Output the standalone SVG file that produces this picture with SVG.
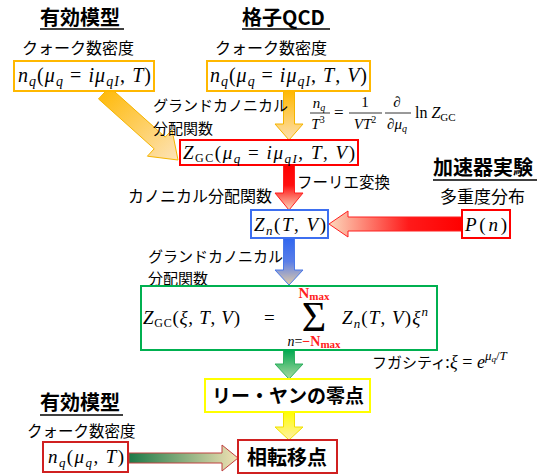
<svg xmlns="http://www.w3.org/2000/svg" width="544" height="476" viewBox="0 0 544 476">
<style>
.jp{font-family:"Noto Sans CJK JP","Noto Sans",sans-serif;fill:#000}
.jb{font-family:"Noto Sans CJK JP","Noto Sans",sans-serif;font-weight:bold;fill:#000}
.m{font-family:"Liberation Serif","Times New Roman",serif;fill:#000}
.i{font-style:italic}
.box{fill:#fff;stroke-width:2}
.ul{stroke:#000;stroke-width:1.5}
.red{fill:#FF2020}
</style>
<defs>
<linearGradient id="gOrD" x1="0" y1="0" x2="1" y2="1"><stop offset="0" stop-color="#FFB800"/><stop offset="1" stop-color="#FDE3B8"/></linearGradient>
<linearGradient id="gOrV" x1="0" y1="0" x2="0" y2="1"><stop offset="0" stop-color="#FFB800"/><stop offset="1" stop-color="#FDE0B0"/></linearGradient>
<linearGradient id="gRedV" x1="0" y1="0" x2="0" y2="1"><stop offset="0" stop-color="#FF0000"/><stop offset="0.45" stop-color="#FF1010"/><stop offset="1" stop-color="#FCD8BC"/></linearGradient>
<linearGradient id="gRedH" x1="1" y1="0" x2="0" y2="0"><stop offset="0" stop-color="#FF0000"/><stop offset="0.4" stop-color="#FF1A1A"/><stop offset="1" stop-color="#FCD8BC"/></linearGradient>
<linearGradient id="gBlue" x1="0" y1="0" x2="0" y2="1"><stop offset="0" stop-color="#2F66F0"/><stop offset="0.5" stop-color="#5A7EE8"/><stop offset="1" stop-color="#E2CBA6"/></linearGradient>
<linearGradient id="gGreen" x1="0" y1="0" x2="0" y2="1"><stop offset="0" stop-color="#00A850"/><stop offset="1" stop-color="#A8D8A0"/></linearGradient>
<linearGradient id="gYel" x1="0" y1="0" x2="0" y2="1"><stop offset="0" stop-color="#FFFF00"/><stop offset="1" stop-color="#FFEFA8"/></linearGradient>
<linearGradient id="gGrH" x1="0" y1="0" x2="1" y2="0"><stop offset="0" stop-color="#1E7A48"/><stop offset="1" stop-color="#F2E2B4"/></linearGradient>
</defs>

<g id="connectors">
<polygon points="98.5,98.9 154.2,148.8 147.4,156.2 178,160 172,129.8 165.2,137.1 109.5,87.1" fill="url(#gOrD)" stroke="#F5B400" stroke-width="1"/>
<polygon points="283.5,91 294.5,91 294.5,124 303,124 289,140 275,124 283.5,124" fill="url(#gOrV)" stroke="#F5B400" stroke-width="1"/>
<polygon points="283.5,165 294.5,165 294.5,193 303,193 289,210 275,193 283.5,193" fill="url(#gRedV)" stroke="#FF2020" stroke-width="1"/>
<polygon points="462,217 348,217 348,211 329,224 348,237 348,231 462,231" fill="url(#gRedH)" stroke="#FF2020" stroke-width="1"/>
<polygon points="283.5,238 294.5,238 294.5,270 303,270 289,285 275,270 283.5,270" fill="url(#gBlue)" stroke="#4A78E8" stroke-width="1"/>
<polygon points="283.5,350 294.5,350 294.5,364 303,364 289,379 275,364 283.5,364" fill="url(#gGreen)" stroke="#30B060" stroke-width="1"/>
<polygon points="283.5,412 294.5,412 294.5,427 303,427 289,440 275,427 283.5,427" fill="url(#gYel)" stroke="#F0E000" stroke-width="1"/>
<polygon points="129,453 222,453 222,445 238,458 222,471 222,463 129,463" fill="url(#gGrH)" stroke="#C04040" stroke-width="1"/>
</g>

<g id="title-model-top">
<text class="jb" x="40" y="25" font-size="20">有効模型</text>
<line class="ul" x1="40" y1="29" x2="124" y2="29"/>
<text class="jp" x="22" y="54" font-size="16">クォーク数密度</text>
</g>
<g id="title-lattice">
<text class="jb" x="242" y="25" font-size="20">格子QCD</text>
<line class="ul" x1="242" y1="29" x2="330" y2="29"/>
<text class="jp" x="215" y="54" font-size="16">クォーク数密度</text>
</g>

<g id="node-nq-model">
<rect class="box" x="14" y="61" width="140" height="30" stroke="#FFB800"/>
<text class="m" x="18" y="82" font-size="20" textLength="133" lengthAdjust="spacing"><tspan class="i">n</tspan><tspan class="i" font-size="14" dy="4">q</tspan><tspan dy="-4">(</tspan><tspan class="i">μ</tspan><tspan class="i" font-size="14" dy="4">q</tspan><tspan dy="-4"> = </tspan><tspan class="i">iμ</tspan><tspan class="i" font-size="14" dy="4">qI</tspan><tspan dy="-4">, </tspan><tspan class="i">T</tspan>)</text>
</g>

<g id="node-nq-lattice">
<rect class="box" x="207" y="61" width="163" height="30" stroke="#FFB800"/>
<text class="m" x="210" y="82" font-size="20" textLength="157" lengthAdjust="spacing"><tspan class="i">n</tspan><tspan class="i" font-size="14" dy="4">q</tspan><tspan dy="-4">(</tspan><tspan class="i">μ</tspan><tspan class="i" font-size="14" dy="4">q</tspan><tspan dy="-4"> = </tspan><tspan class="i">iμ</tspan><tspan class="i" font-size="14" dy="4">qI</tspan><tspan dy="-4">, </tspan><tspan class="i">T</tspan>, <tspan class="i">V</tspan>)</text>
</g>

<g id="label-gc1">
<text class="jp" x="153" y="111" font-size="15">グランドカノニカル</text>
<text class="jp" x="153" y="134" font-size="15">分配関数</text>
</g>

<g id="formula-nq">
<text class="m i" x="319" y="108" font-size="15" text-anchor="middle">n<tspan font-size="10" dy="3">q</tspan></text>
<line x1="310" y1="113" x2="330" y2="113" stroke="#000" stroke-width="0.8"/>
<text class="m i" x="318" y="129" font-size="15" text-anchor="middle">T<tspan font-size="10" dy="-6" font-style="normal">3</tspan></text>
<text class="m" x="334" y="118" font-size="17">=</text>
<text class="m" x="365" y="107" font-size="15" text-anchor="middle">1</text>
<line x1="349" y1="113" x2="382" y2="113" stroke="#000" stroke-width="0.8"/>
<text class="m i" x="365" y="129" font-size="15" text-anchor="middle">VT<tspan font-size="10" dy="-6" font-style="normal">2</tspan></text>
<text class="m i" x="397" y="107" font-size="15" text-anchor="middle">∂</text>
<line x1="385" y1="113" x2="411" y2="113" stroke="#000" stroke-width="0.8"/>
<text class="m i" x="397" y="129" font-size="15" text-anchor="middle">∂μ<tspan font-size="10" dy="3">q</tspan></text>
<text class="m" x="415" y="118" font-size="16">ln <tspan class="i">Z</tspan><tspan font-size="11" dy="3">GC</tspan></text>
</g>

<g id="node-zgc-imag">
<rect class="box" x="180" y="140" width="178" height="25" stroke="#FF0000"/>
<text class="m" x="183" y="159" font-size="19" textLength="172" lengthAdjust="spacing"><tspan class="i">Z</tspan><tspan font-size="12" dy="3">GC</tspan><tspan dy="-3">(</tspan><tspan class="i">μ</tspan><tspan class="i" font-size="13" dy="4">q</tspan><tspan dy="-4"> = </tspan><tspan class="i">iμ</tspan><tspan class="i" font-size="13" dy="4">qI</tspan><tspan dy="-4">, </tspan><tspan class="i">T</tspan>, <tspan class="i">V</tspan>)</text>
</g>

<g id="label-fourier">
<text class="jp" x="297" y="188" font-size="15.5">フーリエ変換</text>
<text class="jp" x="128" y="202" font-size="16">カノニカル分配関数</text>
</g>

<g id="title-accel">
<text class="jb" x="433" y="175" font-size="20">加速器実験</text>
<line class="ul" x1="433" y1="180" x2="537" y2="180"/>
<text class="jp" x="440" y="203" font-size="17">多重度分布</text>
</g>

<g id="node-zn">
<rect class="box" x="251" y="210" width="77" height="28" stroke="#3D6FF0"/>
<text class="m" x="254" y="231" font-size="19" textLength="72" lengthAdjust="spacing"><tspan class="i">Z</tspan><tspan class="i" font-size="13" dy="4">n</tspan><tspan dy="-4">(</tspan><tspan class="i">T</tspan>, <tspan class="i">V</tspan>)</text>
</g>

<g id="node-pn">
<rect class="box" x="462" y="210" width="48" height="28" stroke="#FF0000"/>
<text class="m" x="465" y="231" font-size="19" textLength="42" lengthAdjust="spacing"><tspan class="i">P</tspan>(<tspan class="i">n</tspan>)</text>
</g>

<g id="label-gc2">
<text class="jp" x="148" y="262" font-size="15">グランドカノニカル</text>
<text class="jp" x="148" y="284" font-size="15">分配関数</text>
</g>

<g id="node-zgc-sum">
<rect class="box" x="141" y="286" width="296" height="64" stroke="#00B050"/>
<text class="m" x="143" y="324" font-size="19" textLength="97" lengthAdjust="spacing"><tspan class="i">Z</tspan><tspan font-size="12" dy="3">GC</tspan><tspan dy="-3">(</tspan><tspan class="i">ξ</tspan>, <tspan class="i">T</tspan>, <tspan class="i">V</tspan>)</text>
<text class="m" x="264" y="324" font-size="19">=</text>
<text class="m" x="314" y="331" font-size="42" text-anchor="middle">Σ</text>
<text class="m red" x="314" y="298" font-size="15" font-weight="bold" text-anchor="middle">N<tspan font-size="11" dy="2">max</tspan></text>
<text class="m" x="314" y="346" font-size="14" text-anchor="middle"><tspan class="i">n</tspan>=<tspan class="red" font-weight="bold">−N<tspan font-size="11" dy="2">max</tspan></tspan></text>
<text class="m" x="342" y="324" font-size="19" textLength="86" lengthAdjust="spacing"><tspan class="i">Z</tspan><tspan class="i" font-size="13" dy="4">n</tspan><tspan dy="-4">(</tspan><tspan class="i">T</tspan>, <tspan class="i">V</tspan>)<tspan class="i">ξ</tspan><tspan class="i" font-size="13" dy="-8">n</tspan></text>
</g>

<g id="label-fugacity">
<text class="jp" x="372" y="368" font-size="15">フガシティ</text>
<text class="m" x="445" y="368" font-size="18">:<tspan class="i">ξ</tspan> = <tspan class="i">e</tspan><tspan class="i" font-size="13" dy="-8">μ</tspan><tspan class="i" font-size="9" dy="2">q</tspan><tspan font-size="13" dy="-2">/</tspan><tspan class="i" font-size="13">T</tspan></text>
</g>

<g id="node-leeyang">
<rect class="box" x="205" y="379" width="165" height="33" stroke="#FFFF00"/>
<text class="jb" x="288" y="403" font-size="19" text-anchor="middle">リー・ヤンの零点</text>
</g>

<g id="title-model-bottom">
<text class="jb" x="40" y="410" font-size="20">有効模型</text>
<line class="ul" x1="40" y1="415" x2="123" y2="415"/>
<text class="jp" x="27" y="437" font-size="15.5">クォーク数密度</text>
</g>

<g id="node-nq-bottom">
<rect class="box" x="43" y="442" width="85" height="30" stroke="#D02020"/>
<text class="m" x="48" y="463" font-size="19" textLength="76" lengthAdjust="spacing"><tspan class="i">n</tspan><tspan class="i" font-size="13" dy="4">q</tspan><tspan dy="-4">(</tspan><tspan class="i">μ</tspan><tspan class="i" font-size="13" dy="4">q</tspan><tspan dy="-4">, </tspan><tspan class="i">T</tspan>)</text>
</g>

<g id="node-transition">
<rect class="box" x="238" y="440" width="99" height="33" stroke="#D02020"/>
<text class="jb" x="287" y="465" font-size="20" text-anchor="middle">相転移点</text>
</g>
</svg>
